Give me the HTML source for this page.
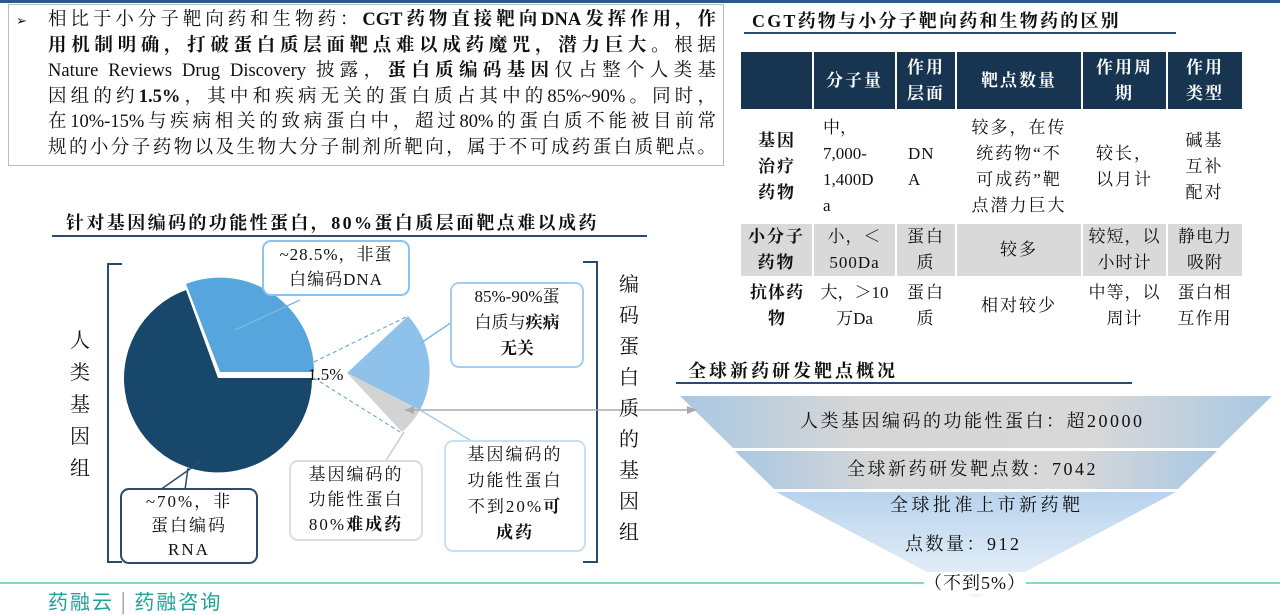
<!DOCTYPE html>
<html><head><meta charset="utf-8"><style>
body{margin:0;width:1280px;height:598px;overflow:hidden;background:#fff;position:relative;font-family:"Liberation Serif","Noto Serif CJK SC",serif;color:#111;letter-spacing:2px}
.a{position:absolute}
.t{font-size:17px;line-height:22px}
.h{font-weight:bold;font-size:18px;letter-spacing:3px}
table{border-collapse:collapse;position:absolute;left:741px;top:52px;font-size:17px;text-align:center;letter-spacing:2px}
td{padding:0;line-height:26px}
.bx{position:absolute;border-radius:9px;background:#fff;text-align:center;font-size:17px;line-height:25px;letter-spacing:2px}
.pl div{text-align:justify;text-align-last:justify;height:25.6px;white-space:nowrap}
</style></head><body>
<div class="a" style="left:0;top:0;width:1280px;height:3px;background:#2c5a86"></div>
<div class="a" style="left:8px;top:4px;width:714px;height:160px;border:1px solid #bbb"></div>
<div class="a t" style="left:16px;top:10px;font-size:13px">➢</div>
<div class="a pl" style="left:48px;top:8px;width:668px;font-size:18.5px;line-height:25.6px;letter-spacing:0">
<div>相比于小分子靶向药和生物药：<b>CGT药物直接靶向DNA发挥作用，作</b></div>
<div><b>用机制明确，打破蛋白质层面靶点难以成药魔咒，潜力巨大。</b>根据</div>
<div>Nature Reviews Drug Discovery 披露，<b>蛋白质编码基因</b>仅占整个人类基</div>
<div>因组的约<b>1.5%</b>，其中和疾病无关的蛋白质占其中的85%~90%。同时，</div>
<div>在10%-15%与疾病相关的致病蛋白中，超过80%的蛋白质不能被目前常</div>
<div>规的小分子药物以及生物大分子制剂所靶向，属于不可成药蛋白质靶点。</div>
</div>

<div class="a h" style="left:66px;top:209px;letter-spacing:2.4px">针对基因编码的功能性蛋白，80%蛋白质层面靶点难以成药</div>
<div class="a" style="left:52px;top:235px;width:595px;height:2px;background:#2c4a6e"></div>

<div class="a h" style="left:752px;top:7px;letter-spacing:2.2px">CGT药物与小分子靶向药和生物药的区别</div>
<div class="a" style="left:744px;top:32px;width:432px;height:2px;background:#2c4a6e"></div>

<table>
<tr style="background:#173550;color:#fff;height:57px;font-weight:bold">
<td style="width:71px;border-right:2px solid #fff"></td><td style="width:81px;border-right:2px solid #fff">分子量</td><td style="width:58px;border-right:2px solid #fff">作用<br>层面</td><td style="width:124px;border-right:2px solid #fff">靶点数量</td><td style="width:83px;border-right:2px solid #fff">作用周<br>期</td><td style="width:74px">作用<br>类型</td></tr>
<tr style="height:115px"><td><b>基因<br>治疗<br>药物</b></td><td style="text-align:left;padding-left:10px;letter-spacing:0">中，<br>7,000-<br>1,400D<br>a</td><td style="text-align:left;padding-left:12px;letter-spacing:1px">DN<br>A</td><td>较多，在传<br>统药物“不<br>可成药”靶<br>点潜力巨大</td><td>较长，<br>以月计</td><td>碱基<br>互补<br>配对</td></tr>
<tr style="height:51px;background:#d9d9d9"><td style="border-right:2px solid #fff"><b>小分子<br>药物</b></td><td style="border-right:2px solid #fff;letter-spacing:1px">小，＜<br>500Da</td><td style="border-right:2px solid #fff">蛋白<br>质</td><td style="border-right:2px solid #fff">较多</td><td style="border-right:2px solid #fff;letter-spacing:1px">较短，以<br>小时计</td><td style="letter-spacing:1px">静电力<br>吸附</td></tr>
<tr style="height:60px"><td style="letter-spacing:1px"><b>抗体药<br>物</b></td><td style="letter-spacing:0">大，＞10<br>万Da</td><td>蛋白<br>质</td><td>相对较少</td><td style="letter-spacing:1px">中等，以<br>周计</td><td style="letter-spacing:1px">蛋白相<br>互作用</td></tr>
</table>

<div class="a h" style="left:688px;top:357px">全球新药研发靶点概况</div>
<div class="a" style="left:676px;top:382px;width:456px;height:2px;background:#2c4a6e"></div>

<svg class="a" style="left:0;top:0" width="1280" height="598">
<defs>
<linearGradient id="g1" x1="0" x2="1"><stop offset="0" stop-color="#a9c8e3"/><stop offset=".3" stop-color="#d6d6d6"/><stop offset=".7" stop-color="#d8d8d8"/><stop offset="1" stop-color="#a9c8e3"/></linearGradient>
<linearGradient id="g3" x1="0" y1="0" x2="0" y2="1"><stop offset="0" stop-color="#b7d3ec"/><stop offset="1" stop-color="#eef5fb"/></linearGradient>
</defs>
<polygon points="680,396 1272,396 1219,448 733,448" fill="url(#g1)"/>
<polygon points="735,451 1217,451 1178,489 774,489" fill="url(#g1)"/>
<polygon points="776,492 1176,492 976,598" fill="url(#g3)"/>
<line x1="0" y1="583" x2="1280" y2="583" stroke="#8fd3cf" stroke-width="2"/>
<polyline points="122,264 108,264 108,562 122,562" fill="none" stroke="#2c4a6e" stroke-width="2"/>
<polyline points="583,262 597,262 597,562 583,562" fill="none" stroke="#2c4a6e" stroke-width="2"/>
<path d="M218,378 L312,378 A94,94 0 1,1 186,290 Z" fill="#17486b"/>
<path d="M220,372 L186,284 A94,94 0 0,1 314,372 Z" fill="#56a5dc"/>
<path d="M347,373 L408,316 A82,82 0 0,1 420,410 Z" fill="#8ec2ea"/>
<path d="M347,373 L420,410 A82,82 0 0,1 402,432 Z" fill="#d3d3d3"/>
<line x1="314" y1="362" x2="408" y2="316" stroke="#5b9bd5" stroke-dasharray="4,3"/>
<line x1="314" y1="378" x2="400" y2="432" stroke="#5b9bd5" stroke-dasharray="4,3"/>
<line x1="405" y1="410" x2="695" y2="410" stroke="#aaa" stroke-width="1.5"/>
<polygon points="405,410 414,406 414,414" fill="#aaa"/>
<polygon points="687,406 697,410 687,414" fill="#aaa"/>
<polyline points="235,330 300,300" fill="none" stroke="#7ab8e6" stroke-width="1.5"/>
<polyline points="418,345 455,320" fill="none" stroke="#7ab8e6" stroke-width="1.5"/>
<polyline points="420,410 470,440" fill="none" stroke="#a7cdee" stroke-width="1.5"/>
<polyline points="404,432 385,462" fill="none" stroke="#ccc" stroke-width="1.5"/>
<polyline points="200,462 160,490 185,490 188,468" fill="none" stroke="#2c4a6e" stroke-width="1.5"/>
</svg>
<div class="a t" style="left:308px;top:364px;letter-spacing:0">1.5%</div>

<div class="bx" style="left:262px;top:240px;width:144px;height:52px;border:2px solid #8cc3ec;letter-spacing:1px">~28.5%，非蛋<br>白编码DNA</div>
<div class="bx" style="left:450px;top:282px;width:130px;height:82px;border:2px solid #a7cdee;line-height:26px;letter-spacing:0">85%-90%蛋<br>白质与<b>疾病<br>无关</b></div>
<div class="bx" style="left:444px;top:440px;width:138px;height:108px;border:2px solid #c8e0f4;line-height:26px;letter-spacing:2px">基因编码的<br>功能性蛋白<br>不到20%<b>可<br>成药</b></div>
<div class="bx" style="left:289px;top:460px;width:130px;height:77px;border:2px solid #ddd;letter-spacing:2px">基因编码的<br>功能性蛋白<br>80%<b>难成药</b></div>
<div class="bx" style="left:120px;top:488px;width:134px;height:72px;border:2px solid #2c4a6e;line-height:24px;letter-spacing:2px">~70%，非<br>蛋白编码<br>RNA</div>

<div class="a" style="left:70px;top:325px;font-size:20px;line-height:32px;width:22px">人类基因组</div>
<div class="a" style="left:619px;top:270px;font-size:20px;line-height:31px;width:22px">编码蛋白质的基因组</div>

<div class="a t" style="left:800px;top:410px;font-size:18px;letter-spacing:2.5px">人类基因编码的功能性蛋白：超20000</div>
<div class="a t" style="left:847px;top:458px;font-size:18px;letter-spacing:2.5px">全球新药研发靶点数：7042</div>
<div class="a t" style="left:890px;top:494px;font-size:18px;letter-spacing:3.5px">全球批准上市新药靶</div>
<div class="a t" style="left:905px;top:533px;font-size:18px;letter-spacing:2.5px">点数量：912</div>
<div class="a t" style="left:924px;top:572px;font-size:18px;background:#fff;letter-spacing:1px">（不到5%）</div>
<div class="a" style="left:48px;top:591px;font-size:20px;color:#1aa39a;font-family:'Noto Sans CJK SC',sans-serif;line-height:20px">药融云 <span style="color:#999">|</span> 药融咨询</div>
</body></html>
